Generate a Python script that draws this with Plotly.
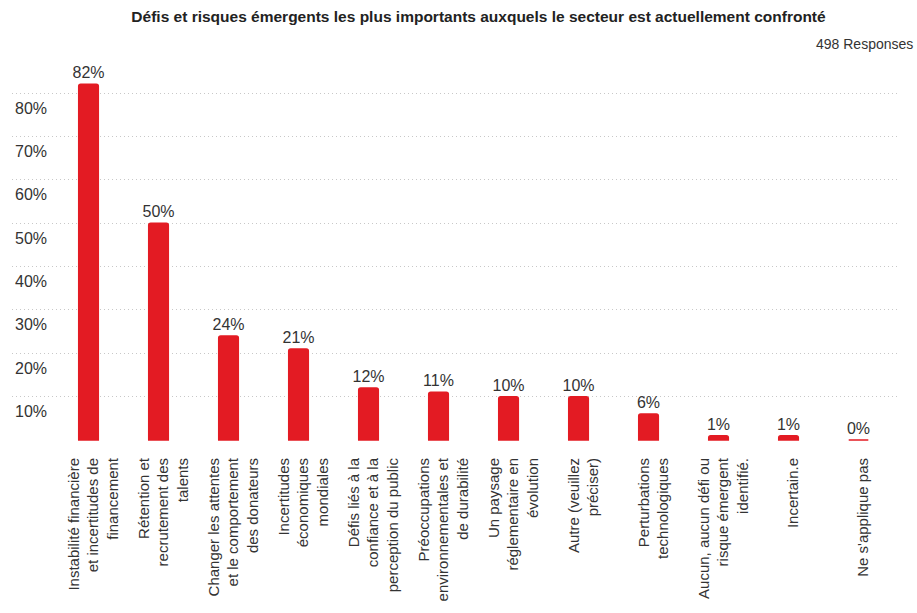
import plotly.graph_objects as go

# Survey results: share of respondents naming each challenge / emerging risk
categories = [
    "Instabilité financière<br>et incertitudes de<br>financement",
    "Rétention et<br>recrutement des<br>talents",
    "Changer les attentes<br>et le comportement<br>des donateurs",
    "Incertitudes<br>économiques<br>mondiales",
    "Défis liés à la<br>confiance et à la<br>perception du public",
    "Préoccupations<br>environnementales et<br>de durabilité",
    "Un paysage<br>réglementaire en<br>évolution",
    "Autre (veuillez<br>préciser)",
    "Perturbations<br>technologiques",
    "Aucun, aucun défi ou<br>risque émergent<br>identifié.",
    "Incertain.e",
    "Ne s'applique pas",
]
values = [82, 50, 24, 21, 12, 11, 10, 10, 6, 1, 1, 0]

y_tick_values = [0, 10, 20, 30, 40, 50, 60, 70, 80]
y_tick_labels = ["", "10%", "20%", "30%", "40%", "50%", "60%", "70%", "80%"]

title_text = "Défis et risques émergents les plus importants auxquels le secteur est actuellement confronté"
responses_text = "498 Responses"

RED = "#E31B23"
TEXT = "#333333"
FONT = "Liberation Sans, Arial, sans-serif"

positions = list(range(len(categories)))

fig = go.Figure(
    go.Bar(
        x=positions,
        y=values,
        width=0.28,
        marker=dict(color=RED, line=dict(color=RED, width=1.5), cornerradius=2),
        text=[f"{v}%" for v in values],
        textposition="outside",
        constraintext="none",
        cliponaxis=False,
        textfont=dict(family=FONT, size=16, color=TEXT),
        hoverinfo="skip",
    )
)

fig.update_layout(
    width=917,
    height=613,
    margin=dict(l=12, r=19, t=58, b=172),
    paper_bgcolor="white",
    plot_bgcolor="white",
    showlegend=False,
    font=dict(family=FONT, color=TEXT),
    title=dict(
        text=f"<b>{title_text}</b>",
        font=dict(family=FONT, size=15.5, color="#222222"),
        xref="container",
        x=478.5 / 917,
        xanchor="center",
        yref="container",
        y=1 - 17 / 613,
        yanchor="middle",
    ),
    annotations=[
        dict(
            text=responses_text,
            xref="paper",
            yref="paper",
            x=1,
            y=1,
            xanchor="right",
            yanchor="middle",
            xshift=17,
            yshift=14,
            showarrow=False,
            font=dict(family=FONT, size=14, color=TEXT),
        )
    ],
)

fig.update_xaxes(
    range=[-1.093, 11.564],
    tickmode="array",
    tickvals=positions,
    ticktext=categories,
    tickangle=-90,
    tickfont=dict(family=FONT, size=15, color=TEXT),
    ticklabelstandoff=13,
    ticklabelshift=5,
    automargin=False,
    showgrid=False,
    showline=False,
    zeroline=False,
    ticks="",
    fixedrange=True,
)

fig.update_yaxes(
    range=[-0.23, 88.07],
    tickmode="array",
    tickvals=y_tick_values,
    ticktext=y_tick_labels,
    ticklabelposition="inside",
    ticklabelshift=15,
    tickfont=dict(family=FONT, size=16, color=TEXT),
    automargin=False,
    showgrid=True,
    gridcolor="#C8C8C8",
    griddash="1px,3px",
    gridwidth=1,
    zeroline=False,
    showline=False,
    ticks="",
    fixedrange=True,
)

fig.write_html("out.html")
